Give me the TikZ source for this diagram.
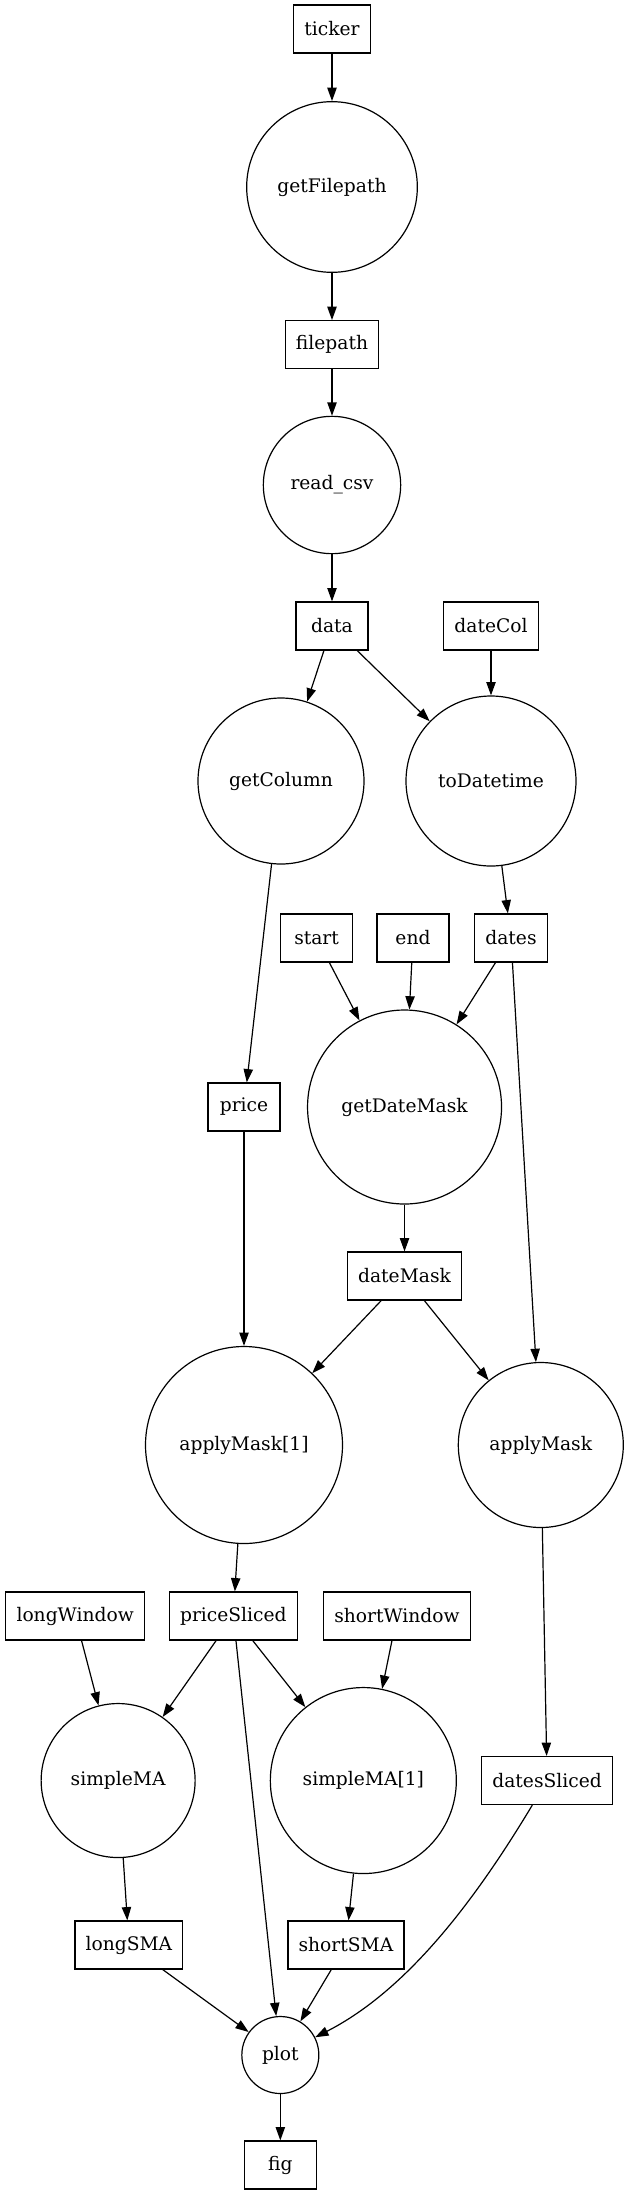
\documentclass[tikz,border=0pt]{standalone}
\usepackage{fontspec}
\setmainfont{DejaVu Serif}
\usetikzlibrary{arrows.meta, positioning}
\tikzset{node distance = 118pt, on grid,
         >= {Triangle[length = 10pt, width = 7pt]},
         every node/.style = {font = \fontsize{14}{17}\selectfont},
         var/.style = {draw, rectangle, minimum width = 54pt,
                       minimum height = 36pt, inner xsep = 8pt, inner ysep = 0pt},
         func/.style = {draw, circle, inner sep = 0pt}}

\begin{document}
\begin{tikzpicture}[line width = 0.9pt]
        \useasboundingbox (0,0) rectangle (468pt,-1646.25pt);

        \node[var]                           (ticker)      at (249pt,-21.75pt)                     {ticker};
        \node[func, minimum size = 128pt]    (getFilepath) [below = 118.5pt of ticker]             {getFilepath};
        \node[var]                           (filepath)    [below = 118.25pt of getFilepath]       {filepath};
        \node[func, minimum size = 103pt]    (readcsv)     [below = 105.25pt of filepath]          {read\_csv};
        \node[var]                           (data)        [below = 105.75pt of readcsv]           {data};
        \node[var]                           (dateCol)     [right = 119.25pt of data]              {dateCol};
        \node[func, minimum size = 124.5pt]  (getColumn)   [below left = 116.25pt and 38.25pt of data] {getColumn};
        \node[func, minimum size = 127.5pt]  (toDatetime)  [below = 116.25pt of dateCol]           {toDatetime};
        \node[var]                           (dates)       [below right = 117.75pt and 15pt of toDatetime] {dates};
        \node[var]                           (end)         [left = 73.5pt of dates]                {end};
        \node[var]                           (start)       [left = 72.3pt of end]                  {start};
        \node[var]                           (price)       [below left = 244.5pt and 27.75pt of getColumn] {price};
        \node[func, minimum size = 145.5pt]  (getDateMask) [right = 120.4pt of price]              {getDateMask};
        \node[var]                           (dateMask)    [below = 126.75pt of getDateMask]       {dateMask};
        \node[func, minimum size = 147.75pt] (applyMaskA)  [below = 253.5pt of price]              {applyMask[1]};
        \node[func, minimum size = 123.75pt] (applyMask)   [right = 222.6pt of applyMaskA]         {applyMask};
        \node[var]                           (priceSliced) [below left = 128.25pt and 8pt of applyMaskA] {priceSliced};
        \node[var]                           (longWindow)  [left = 118.65pt of priceSliced]        {longWindow};
        \node[var]                           (shortWindow) [right = 122.75pt of priceSliced]       {shortWindow};
        \node[func, minimum size = 115.5pt]  (simpleMA)    [below right = 123.4pt and 32.25pt of longWindow] {simpleMA};
        \node[func, minimum size = 139.5pt]  (simpleMAA)   [below left = 123.4pt and 25.25pt of shortWindow] {simpleMA[1]};
        \node[var]                           (datesSliced) [below right = 251.65pt and 4.7pt of applyMask] {datesSliced};
        \node[var]                           (longSMA)     [below right = 123.35pt and 8.1pt of simpleMA] {longSMA};
        \node[var]                           (shortSMA)    [below left = 123.35pt and 13.05pt of simpleMAA] {shortSMA};
        \node[func, minimum size = 57.75pt]  (plot)        [below right = 82.5pt and 113.55pt of longSMA] {plot};
        \node[var]                           (fig)         [below = 82.5pt of plot]                {fig};

        \path[->] (ticker)      edge (getFilepath);
        \path[->] (getFilepath) edge (filepath);
        \path[->] (filepath)    edge (readcsv);
        \path[->] (readcsv)     edge (data);
        \path[->] (data)        edge (getColumn);
        \path[->] (data)        edge (toDatetime);
        \path[->] (dateCol)     edge (toDatetime);
        \path[->] (getColumn)   edge (price);
        \path[->] (toDatetime)  edge (dates);
        \path[->] (start)       edge (getDateMask);
        \path[->] (end)         edge (getDateMask);
        \path[->] (dates)       edge (getDateMask);
        \path[->] (dates)       edge (applyMask);
        \path[->] (getDateMask) edge (dateMask);
        \path[->] (price)       edge (applyMaskA);
        \path[->] (dateMask)    edge (applyMaskA);
        \path[->] (dateMask)    edge (applyMask);
        \path[->] (applyMaskA)  edge (priceSliced);
        \path[->] (applyMask)   edge (datesSliced);
        \path[->] (longWindow)  edge (simpleMA);
        \path[->] (priceSliced) edge (simpleMA);
        \path[->] (priceSliced) edge (simpleMAA);
        \path[->] (priceSliced) edge (plot);
        \path[->] (shortWindow) edge (simpleMAA);
        \path[->] (simpleMA)    edge (longSMA);
        \path[->] (simpleMAA)   edge (shortSMA);
        \path[->] (longSMA)     edge (plot);
        \path[->] (shortSMA)    edge (plot);
        \path[->] (datesSliced) edge[out = -121, in = 27, looseness = 0.85] (plot);
        \path[->] (plot)        edge (fig);
\end{tikzpicture}
\end{document}
